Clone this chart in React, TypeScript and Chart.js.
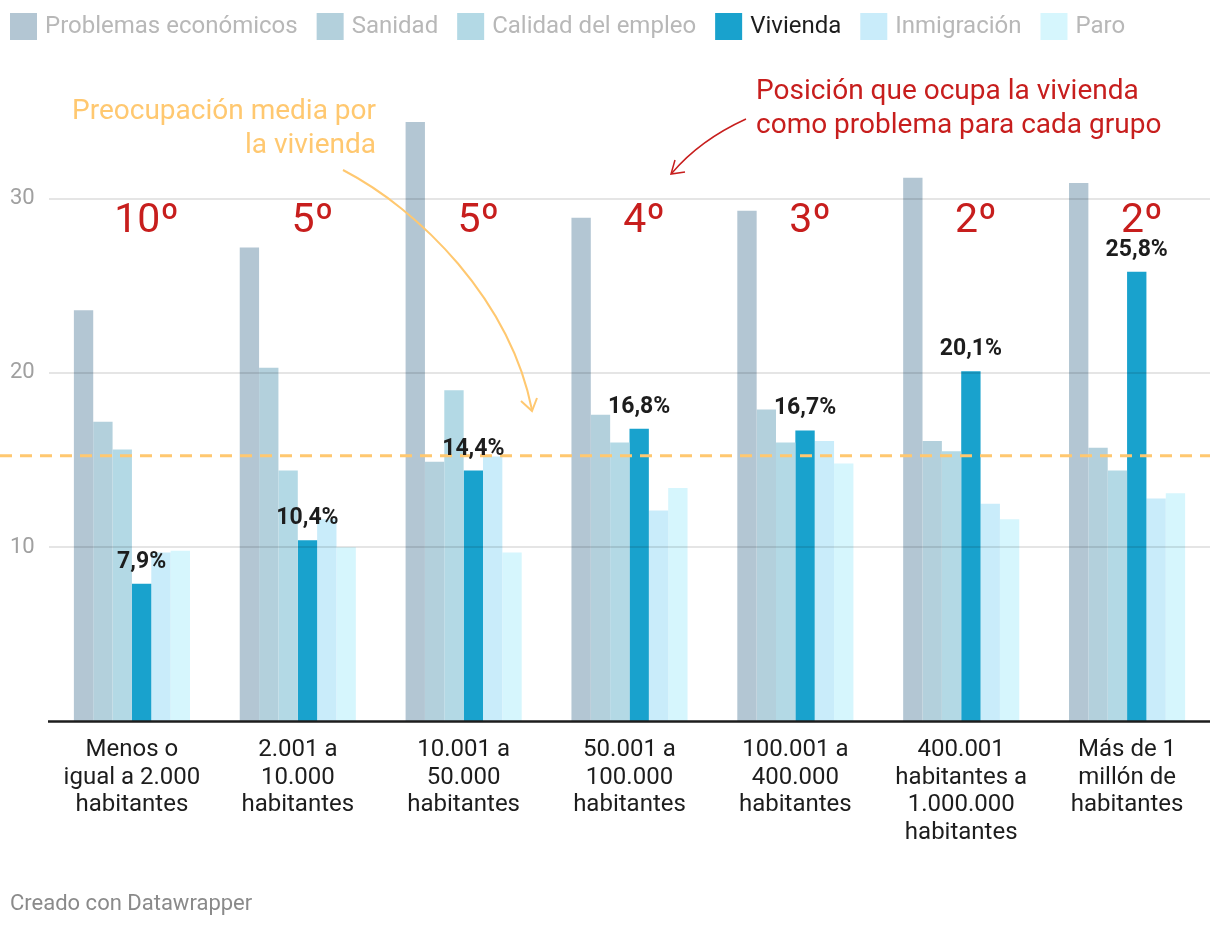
import React, { useEffect, useRef } from "react";
import { Chart, registerables } from "chart.js";

Chart.register(...registerables);

const categories: string[][] = [
  ["Menos o", "igual a 2.000", "habitantes"],
  ["2.001 a", "10.000", "habitantes"],
  ["10.001 a", "50.000", "habitantes"],
  ["50.001 a", "100.000", "habitantes"],
  ["100.001 a", "400.000", "habitantes"],
  ["400.001", "habitantes a", "1.000.000", "habitantes"],
  ["Más de 1", "millón de", "habitantes"],
];

const seriesNames = [
  "Problemas económicos",
  "Sanidad",
  "Calidad del empleo",
  "Vivienda",
  "Inmigración",
  "Paro",
];

const problemasEconomicos = [23.6, 27.2, 34.4, 28.9, 29.3, 31.2, 30.9];
const sanidad = [17.2, 20.3, 14.9, 17.6, 17.9, 16.1, 15.7];
const calidadEmpleo = [15.6, 14.4, 19.0, 16.0, 16.0, 15.5, 14.4];
const vivienda = [7.9, 10.4, 14.4, 16.8, 16.7, 20.1, 25.8];
const inmigracion = [9.7, 11.6, 15.2, 12.1, 16.1, 12.5, 12.8];
const paro = [9.8, 10.0, 9.7, 13.4, 14.8, 11.6, 13.1];

const viviendaRank = ["10º", "5º", "5º", "4º", "3º", "2º", "2º"];
const mediaVivienda = 15.25;
const yTicks = [10, 20, 30];

const seriesColors = ["#b3c6d3", "#b3d0dc", "#b3d9e5", "#19a2cd", "#c9ecfa", "#d6f6fd"];
const legendTextColors = ["#b8b8b8", "#b8b8b8", "#b8b8b8", "#1d1d1d", "#b8b8b8", "#b8b8b8"];

const FONT = "Roboto, 'Noto Sans', sans-serif";
const RED = "#c71e1d";
const ORANGE = "#ffc870";

const overlayPlugin = {
  id: "overlay",
  afterDatasetsDraw(chart: any) {
    const { ctx, chartArea, scales } = chart;
    const y = scales.y;
    ctx.save();

    // gridlines over bars
    ctx.strokeStyle = "rgba(0,0,0,0.1)";
    ctx.lineWidth = 2;
    yTicks.forEach((v) => {
      const py = Math.round(y.getPixelForValue(v));
      ctx.beginPath();
      ctx.moveTo(chartArea.left, py);
      ctx.lineTo(chartArea.right, py);
      ctx.stroke();
    });

    // baseline
    const y0 = y.getPixelForValue(0);
    ctx.strokeStyle = "#1d1d1d";
    ctx.lineWidth = 2.5;
    ctx.beginPath();
    ctx.moveTo(chartArea.left - 1, y0);
    ctx.lineTo(chartArea.right, y0);
    ctx.stroke();

    // mean dashed line
    const ym = y.getPixelForValue(mediaVivienda);
    ctx.strokeStyle = ORANGE;
    ctx.lineWidth = 3;
    ctx.setLineDash([12, 8]);
    ctx.beginPath();
    ctx.moveTo(0, ym);
    ctx.lineTo(chartArea.right, ym);
    ctx.stroke();
    ctx.setLineDash([]);

    // value labels on Vivienda
    const meta = chart.getDatasetMeta(3);
    ctx.fillStyle = "#1d1d1d";
    ctx.font = `bold 23px ${FONT}`;
    ctx.textAlign = "center";
    ctx.textBaseline = "alphabetic";
    meta.data.forEach((bar: any, i: number) => {
      const label = vivienda[i].toFixed(1).replace(".", ",") + "%";
      ctx.fillText(label, bar.x, bar.y - 16);
    });

    // rank labels
    ctx.fillStyle = RED;
    ctx.font = `41px ${FONT}`;
    meta.data.forEach((bar: any, i: number) => {
      ctx.fillText(viviendaRank[i], bar.x + 5, y.getPixelForValue(28.1));
    });

    // orange annotation
    ctx.font = `28px ${FONT}`;
    ctx.fillStyle = ORANGE;
    ctx.textAlign = "right";
    ctx.textBaseline = "middle";
    ctx.fillText("Preocupación media por", 376, 112);
    ctx.fillText("la vivienda", 376, 146);

    ctx.strokeStyle = ORANGE;
    ctx.lineWidth = 2;
    ctx.beginPath();
    ctx.moveTo(343, 170);
    ctx.bezierCurveTo(420, 210, 510, 300, 532, 410);
    ctx.stroke();
    ctx.beginPath();
    ctx.moveTo(521, 401);
    ctx.lineTo(532, 411);
    ctx.lineTo(537, 398);
    ctx.stroke();

    // red annotation
    ctx.fillStyle = RED;
    ctx.textAlign = "left";
    ctx.fillText("Posición que ocupa la vivienda", 756, 92);
    ctx.fillText("como problema para cada grupo", 756, 126);

    ctx.strokeStyle = RED;
    ctx.lineWidth = 1.5;
    ctx.beginPath();
    ctx.moveTo(746, 119);
    ctx.quadraticCurveTo(700, 140, 672, 173);
    ctx.stroke();
    ctx.beginPath();
    ctx.moveTo(675, 160);
    ctx.lineTo(671, 174);
    ctx.lineTo(685, 172);
    ctx.stroke();

    ctx.restore();
  },
  afterDraw(chart: any) {
    const { ctx } = chart;
    ctx.save();
    // legend
    ctx.font = `24px ${FONT}`;
    ctx.textBaseline = "middle";
    ctx.textAlign = "left";
    let lx = 10;
    seriesNames.forEach((name, i) => {
      ctx.fillStyle = seriesColors[i];
      ctx.fillRect(lx, 13, 27, 27);
      ctx.fillStyle = legendTextColors[i];
      ctx.fillText(name, lx + 35, 27);
      lx += 35 + ctx.measureText(name).width + 19;
    });
    // footer
    ctx.font = `22px ${FONT}`;
    ctx.fillStyle = "#8a8a8a";
    ctx.fillText("Creado con Datawrapper", 10, 904);
    ctx.restore();
  },
};

export default function App() {
  const canvasRef = useRef<HTMLCanvasElement | null>(null);

  useEffect(() => {
    if (!canvasRef.current) return;
    const seriesValues = [problemasEconomicos, sanidad, calidadEmpleo, vivienda, inmigracion, paro];
    const chart = new Chart(canvasRef.current, {
      type: "bar",
      data: {
        labels: categories,
        datasets: seriesNames.map((name, i) => ({
          label: name,
          data: seriesValues[i],
          backgroundColor: seriesColors[i],
          borderWidth: 0,
          categoryPercentage: 0.7,
          barPercentage: 1.0,
        })),
      },
      options: {
        animation: false,
        responsive: true,
        maintainAspectRatio: false,
        layout: { padding: { top: 76.6, left: 10, right: 10, bottom: 0 } },
        plugins: {
          legend: { display: false },
          tooltip: { enabled: false },
        },
        scales: {
          x: {
            grid: { display: false },
            border: { display: false },
            ticks: {
              autoSkip: false,
              maxRotation: 0,
              padding: 7,
              color: "#1d1d1d",
              font: { family: FONT, size: 24, lineHeight: "27.5px" },
            },
            afterFit(scale: any) {
              scale.height = 928 - 721.5;
            },
          },
          y: {
            min: 0,
            max: 37,
            grid: { display: false },
            border: { display: false },
            ticks: {
              crossAlign: "far",
              color: "#a0a0a0",
              font: { family: FONT, size: 22 },
            },
            afterBuildTicks(scale: any) {
              scale.ticks = yTicks.map((v) => ({ value: v }));
            },
            afterFit(scale: any) {
              scale.width = 39;
            },
          },
        },
      },
      plugins: [overlayPlugin],
    });
    return () => chart.destroy();
  }, []);

  return (
    <div style={{ position: "absolute", left: 0, top: 0, width: 1220, height: 928, background: "#fff" }}>
      <canvas ref={canvasRef} />
    </div>
  );
}
